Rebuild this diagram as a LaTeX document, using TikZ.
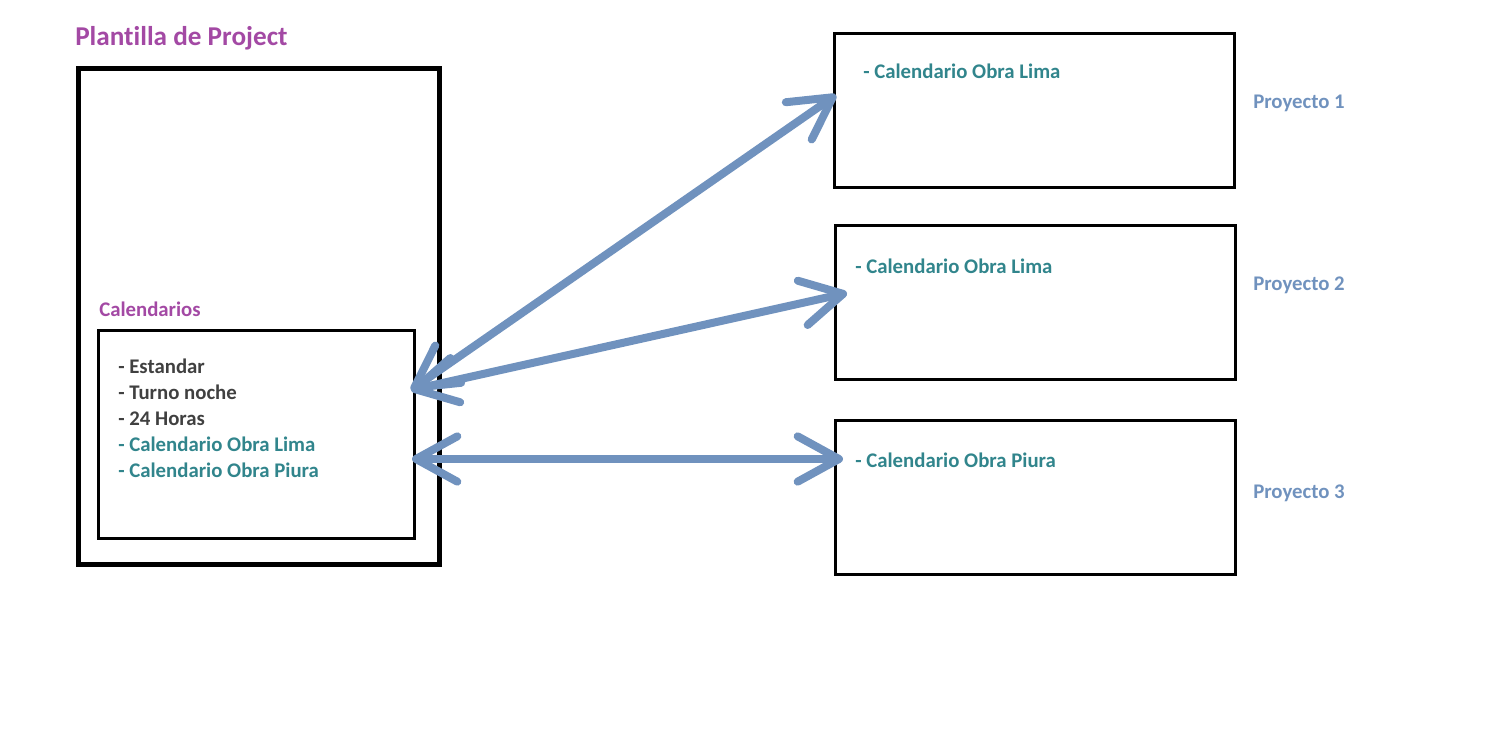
\documentclass[tikz,border=0pt]{standalone}
\usepackage{fontspec}
\setmainfont{Carlito}[Ligatures=NoCommon]
\usetikzlibrary{arrows.meta}
\definecolor{plantpurple}{RGB}{163,73,164}
\definecolor{obrateal}{RGB}{49,133,140}
\definecolor{listgray}{RGB}{64,64,64}
\definecolor{arrowblue}{RGB}{112,146,190}
\begin{document}
\begin{tikzpicture}[x=0.75pt,y=0.75pt,yscale=-1,
  box/.style={draw=black,line width=2.25pt,inner sep=0pt,outer sep=0pt,anchor=north west},
  txt/.style={anchor=base west,inner sep=0pt,font=\fontsize{15.6pt}{18pt}\selectfont\bfseries},
  link/.style={draw=arrowblue,line width=6pt,line cap=round,
    {Straight Barb[length=31pt,width=34pt,round]}-{Straight Barb[length=31pt,width=34pt,round]}}]
%set diagram size
\path[use as bounding box] (0,0) rectangle (1506,753);

%Shape: Rectangle [plantilla]
\node (plantilla) at (78.5,68.5) [box,line width=3.75pt,minimum width=270.5pt,minimum height=372pt] {};
%Shape: Rectangle [calendarios]
\node (calbox) at (98.5,330.5) [box,minimum width=237pt,minimum height=156pt] {};
%Shape: Rectangle [proyecto 1..3]
\node (p1) at (834.5,33.5) [box,minimum width=300pt,minimum height=115.5pt] {};
\node (p2) at (835.5,225.5) [box,minimum width=300pt,minimum height=115.5pt] {};
\node (p3) at (835.5,420.5) [box,minimum width=300pt,minimum height=115.5pt] {};

% Text Node
\node (titulo) at (75,45) [txt,font=\fontsize{20.4pt}{24pt}\selectfont\bfseries,text=plantpurple] {Plantilla de Project};
% Text Node
\node (calhead) at (99,316) [txt,text=plantpurple] {Calendarios};
% Text Node
\node (cal1) at (118,373) [txt,text=listgray] {- Estandar};
\node (cal2) at (118,399) [txt,text=listgray] {- Turno noche};
\node (cal3) at (118,425) [txt,text=listgray] {- 24 Horas};
\node (cal4) at (118,451) [txt,text=obrateal] {- Calendario Obra Lima};
\node (cal5) at (118,477) [txt,text=obrateal] {- Calendario Obra Piura};
% Text Node
\node (obra1) at (863,78) [txt,text=obrateal] {- Calendario Obra Lima};
\node (obra2) at (855,273) [txt,text=obrateal] {- Calendario Obra Lima};
\node (obra3) at (855,467) [txt,text=obrateal] {- Calendario Obra Piura};
% Text Node
\node (lbl1) at (1253,108) [txt,text=arrowblue] {Proyecto 1};
\node (lbl2) at (1253,290) [txt,text=arrowblue] {Proyecto 2};
\node (lbl3) at (1253,498) [txt,text=arrowblue] {Proyecto 3};

%Arrow ends
\coordinate (src1) at (411,390);
\coordinate (src2) at (412,459);
\coordinate (dst1) at (836,95);
\coordinate (dst2) at (847,293);
\coordinate (dst3) at (843,459);
%Straight Lines
\draw[link] (src1) -- (dst1);
\draw[link] (src1) -- (dst2);
\draw[link] (src2) -- (dst3);

\end{tikzpicture}
\end{document}
